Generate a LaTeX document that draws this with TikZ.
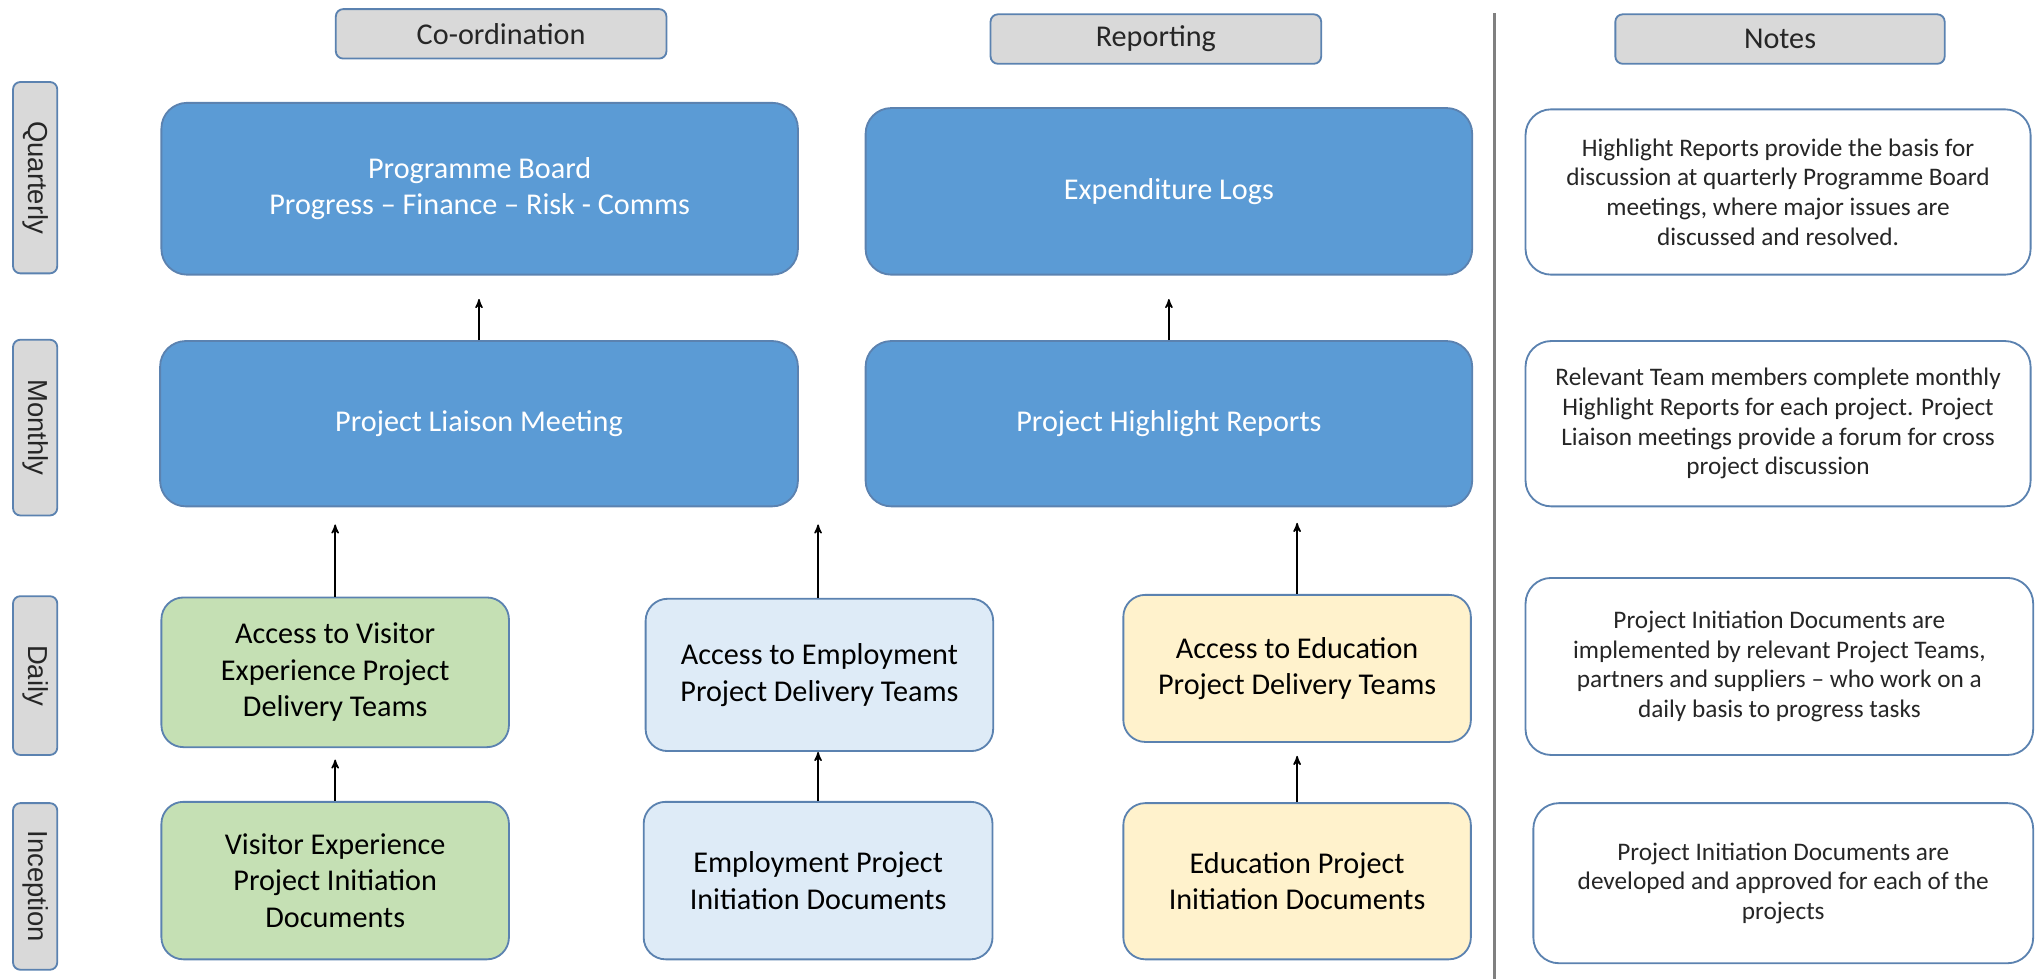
\documentclass[tikz,border=0pt]{standalone}
\usepackage{fontspec}
\setmainfont{Carlito}
\newfontfamily\sidefont{Liberation Sans}
\usetikzlibrary{arrows}
\definecolor{boardblue}{HTML}{5B9BD5}
\definecolor{edgeblue}{HTML}{5B82B0}
\definecolor{hdrgray}{HTML}{D9D9D9}
\definecolor{visgreen}{HTML}{C5E0B4}
\definecolor{empblue}{HTML}{DEEBF7}
\definecolor{eduyellow}{HTML}{FFF2CC}
\definecolor{notetext}{HTML}{262626}
\tikzset{
	dims/.style 2 args = {minimum width=#1*0.025cm, minimum height=#2*0.025cm},
	basebox/.style = {align=center, inner sep=0pt, text centered,
		draw=edgeblue, line width=1pt},
	hdr/.style = {basebox, rounded corners=4pt, fill=hdrgray, text=notetext,
		font=\fontsize{16.5}{19}\selectfont},% column heading
	side/.style = {basebox, rounded corners=4pt, fill=hdrgray, rotate=-90,
		text=notetext, font=\sidefont\fontsize{15}{17}\selectfont},% row label
	bluebox/.style = {basebox, rounded corners=14pt, fill=boardblue, text=white,
		font=\fontsize{16.5}{19.5}\selectfont},% quarterly and monthly
	teambox/.style = {basebox, rounded corners=12pt, text=black,
		font=\fontsize{16.5}{20}\selectfont},% daily and inception
	notebox/.style = {basebox, rounded corners=14pt, fill=white, text=notetext,
		font=\fontsize{13.8}{16.2}\selectfont}% notes column
}
\begin{document}
\begin{tikzpicture}[x=0.025cm, y=-0.025cm, ->, >=stealth', line width=0.8pt]
	\useasboundingbox (0,0) rectangle (1568,752);
	% headings
	\node[hdr, dims={254}{38}] (coord) at (385,26) {Co-ordination};
	\node[hdr, dims={254}{38}] (report) at (888,30) {Reporting};
	\node[hdr, dims={253}{38}] (notes) at (1367.5,30) {Notes};
	\draw[-, draw=gray, line width=1.4pt] (1148,10) -- (1148,752);
	% row labels
	\node[side, dims={147}{34}] (quarterly) at (27,136.5) {Quarterly};
	\node[side, dims={135}{34}] (monthly) at (27,328.5) {Monthly};
	\node[side, dims={122}{34}] (daily) at (27,519) {Daily};
	\node[side, dims={128}{34}] (inception) at (27,681) {Inception};
	% quarterly and monthly
	\node[bluebox, dims={489}{132}] (board) at (368.5,145) {Programme Board\\Progress -- Finance -- Risk - Comms};
	\node[bluebox, dims={466}{128}] (logs) at (898,147) {Expenditure Logs};
	\node[bluebox, dims={490}{127}] (liaison) at (368,325.5) {Project Liaison Meeting};
	\node[bluebox, dims={466}{127}] (highlight) at (898,325.5) {Project Highlight Reports};
	% daily
	\node[teambox, fill=visgreen, dims={267}{115}] (visdaily) at (257.5,516.5) {Access to Visitor\\Experience Project\\Delivery Teams};
	\node[teambox, fill=empblue, dims={267}{117}] (empdaily) at (629.5,518.5) {Access to Employment\\Project Delivery Teams};
	\node[teambox, fill=eduyellow, dims={267}{113}] (edudaily) at (996.5,513.5) {Access to Education\\Project Delivery Teams};
	% inception
	\node[teambox, fill=visgreen, dims={267}{121}] (visinit) at (257.5,676.5) {Visitor Experience\\Project Initiation\\Documents};
	\node[teambox, fill=empblue, dims={268}{121}] (empinit) at (628.5,676.5) {Employment Project\\Initiation Documents};
	\node[teambox, fill=eduyellow, dims={267}{120}] (eduinit) at (996.5,677) {Education Project\\Initiation Documents};
	% notes
	\node[notebox, dims={388}{127}] (note1) at (1366,147.5) {Highlight Reports provide the basis for\\discussion at quarterly Programme Board\\meetings, where major issues are\\discussed and resolved.};
	\node[notebox, dims={388}{127}] (note2) at (1366,325.5) {Relevant Team members complete monthly\\Highlight Reports for each project. Project\\Liaison meetings provide a forum for cross\\project discussion};
	\node[notebox, dims={390}{136}] (note3) at (1367,512) {Project Initiation Documents are\\implemented by relevant Project Teams,\\partners and suppliers -- who work on a\\daily basis to progress tasks};
	\node[notebox, dims={384}{123}] (note4) at (1370,678.5) {Project Initiation Documents are\\developed and approved for each of the\\projects};
	% arrows
	\draw[shorten >=0.45cm] (liaison.north) -- (liaison.north |- board.south);
	\draw[shorten >=0.45cm] (highlight.north) -- (highlight.north |- logs.south);
	\draw[shorten >=0.33cm] (visdaily.north) -- (visdaily.north |- liaison.south);
	\draw[shorten >=0.33cm] (empdaily.north -| empinit.north) -- (empinit.north |- liaison.south);
	\draw[shorten >=0.3cm] (edudaily.north) -- (edudaily.north |- highlight.south);
	\draw[shorten >=0.22cm] (visinit.north) -- (visinit.north |- visdaily.south);
	\draw (empinit.north) -- (empinit.north |- empdaily.south);
	\draw[shorten >=0.25cm] (eduinit.north) -- (eduinit.north |- edudaily.south);
\end{tikzpicture}
\end{document}
